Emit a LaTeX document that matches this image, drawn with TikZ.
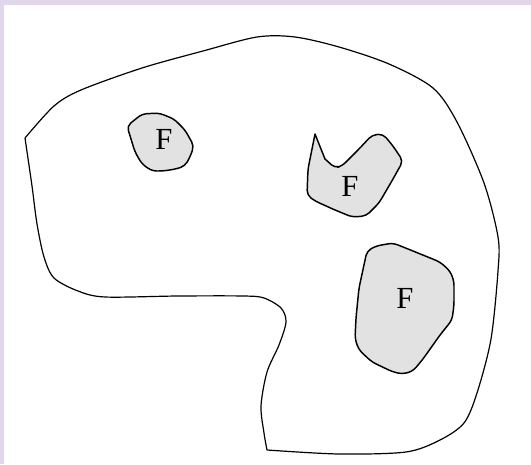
\documentclass[tikz,border=0pt]{standalone}
\usepackage{fontspec}
\setmainfont{Liberation Serif}
\definecolor{frame}{HTML}{E1D6EA}
\definecolor{blobfill}{HTML}{E2E2E2}
\tikzset{
  outline/.style={draw=black, line width=0.9pt, line join=round},
  blob/.style={draw=black, line width=1.1pt, fill=blobfill, line join=round, rounded corners=3.5pt},
  flabel/.style={font=\fontsize{23}{23}\selectfont, inner sep=0pt}
}
\begin{document}
\begin{tikzpicture}[x=0.75pt, y=-0.75pt]
\useasboundingbox (0,0) rectangle (531,464);
\fill[white] (0,0) rectangle (531,464);
\fill[frame] (0,0) rectangle (531,5);
\fill[frame] (0,0) rectangle (4,464);
% outer region
\draw[outline] plot[smooth, tension=0.5] coordinates {
 (25,138) (54,106) (81,90) (142,68) (203,51) (257,37) (295,37) (339,47)
 (389,64) (433,88) (457,122) (484,183) (498,237) (498,271) (491,339)
 (477,393) (464,423) (440,440) (406,452) (339,454) (267,450)}
 -- plot[smooth, tension=0.5] coordinates {(267,450)
 (264,433) (261,406) (267,372) (279,345) (286,322) (281,308) (264,298)
 (244,296) (178,296) (105,297) (78,291) (54,278) (44,257) (37,224) (32,186) (25,138)};
% blob 1
\draw[blob] (127,126) -- (142,114) -- (159,113) -- (174,119) -- (185,130) -- (194,146)
 -- (190,157) -- (185,166) -- (176,169) -- (163,171) -- (152,171) -- (142,164)
 -- (135,152) -- cycle;
% blob 2
\draw[blob] (315,134) [sharp corners] -- (325,159) [rounded corners=3.5pt] -- (335,168) -- (342,166) -- (359,149) -- (372,135)
 -- (383,134) -- (393,146) -- (403,161) -- (393,179) -- (379,203) -- (366,216)
 -- (352,217) -- (335,210) -- (315,201) -- (307,195) -- (308,169) -- (312,149) [sharp corners] -- cycle;
% blob 3
\draw[blob] (367,251) -- (376,246) -- (393,243) -- (413,251) -- (440,262) -- (450,271)
 -- (454,281) -- (454,305) -- (452,320) -- (440,335) -- (423,359) -- (413,371)
 -- (403,374) -- (393,372) -- (372,362) -- (359,350) -- (355,339) -- (356,318)
 -- (359,288) -- cycle;
\node[flabel] (f1) at (164,139) {F};
\node[flabel] (f2) at (350,186) {F};
\node[flabel] (f3) at (405,298) {F};
\end{tikzpicture}
\end{document}
